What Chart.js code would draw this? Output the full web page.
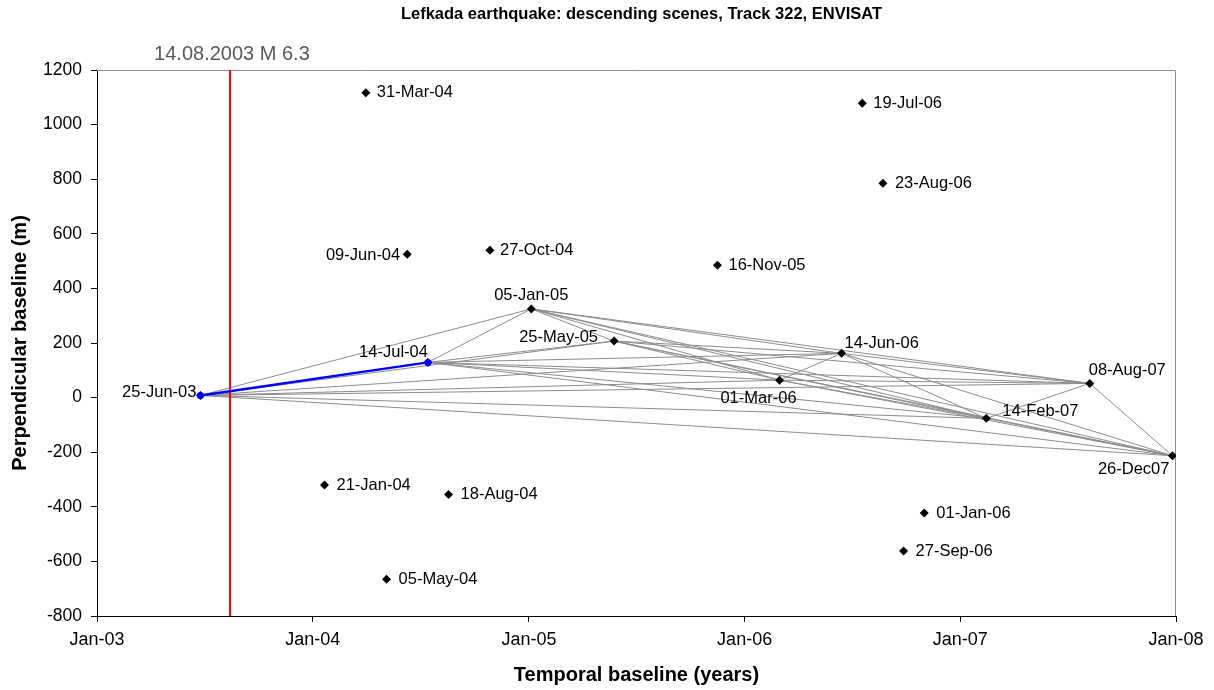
<!DOCTYPE html>
<html>
<head>
<meta charset="utf-8">
<script src="https://cdn.jsdelivr.net/npm/chart.js@4/dist/chart.umd.min.js"></script>
<style>
  html, body { margin: 0; padding: 0; background: #ffffff; }
  #wrap { width: 1214px; height: 690px; }
</style>
</head>
<body>
<div id="wrap"><canvas id="chart" width="1214" height="690"></canvas></div>
<script>
// ENVISAT descending track 322 acquisitions: date on the time axis, label text, perpendicular baseline (m)
const sceneDates = ['2003-06-25','2004-01-21','2004-03-31','2004-05-05','2004-06-09','2004-07-14','2004-08-18',
  '2004-10-27','2005-01-05','2005-05-25','2005-11-16','2006-03-01','2006-06-14','2006-07-19','2006-08-23',
  '2006-09-27','2006-11-01','2007-02-14','2007-08-08','2007-12-26'];
const sceneLabels = ['25-Jun-03','21-Jan-04','31-Mar-04','05-May-04','09-Jun-04','14-Jul-04','18-Aug-04',
  '27-Oct-04','05-Jan-05','25-May-05','16-Nov-05','01-Mar-06','14-Jun-06','19-Jul-06','23-Aug-06',
  '27-Sep-06','01-Jan-06','14-Feb-07','08-Aug-07','26-Dec07'];
const perpBaselines = [8,-320,1117,-665,525,129,-355,540,325,207,485,64,162,1078,785,-562,-423,-76,52,-213];

// Interferometric pairs (indices into sceneLabels)
const networkPairs = [
  [0,5],[0,8],[0,9],[0,11],[0,12],[0,17],[0,18],[0,19],
  [5,8],[5,9],[5,11],[5,12],[5,17],[5,18],[5,19],
  [8,9],[8,11],[8,12],[8,17],[8,18],[8,19],
  [9,11],[9,12],[9,17],[9,18],[9,19],
  [11,12],[11,17],[11,18],[11,19],
  [12,17],[12,18],[12,19],
  [17,18],[17,19],
  [18,19]
];
// Pre-seismic pair highlighted in blue
const masterPair = [0,5];

// Earthquake
const quakeDate = '2003-08-14';
const quakeText = '14.08.2003 M 6.3';

// Axis ticks
const yearTicks = ['2003-01-01','2004-01-01','2005-01-01','2006-01-01','2007-01-01','2008-01-01'];
const yearTickLabels = ['Jan-03','Jan-04','Jan-05','Jan-06','Jan-07','Jan-08'];
const yMin = -800, yMax = 1200, yStep = 200;

// Label placement around each marker: [dx, dy, align]
const labelPlacement = [
  [-4,-3,'right'],[12,0,'left'],[11,0,'left'],[12,0,'left'],[-7,1,'right'],[0,-10,'right'],[12,0,'left'],
  [10,0,'left'],[0,-13,'center'],[-16,-4,'right'],[11,0,'left'],[-21,18,'center'],[3,-10,'left'],[11,0,'left'],
  [12,0,'left'],[12,0,'left'],[12,0,'left'],[16,-7,'left'],[-1,-13,'left'],[-3,14,'right']
];

const DAY_MS = 86400000;
const axisOrigin = Date.parse(yearTicks[0] + 'T00:00:00Z');
const toDays = s => (Date.parse(s + 'T00:00:00Z') - axisOrigin) / DAY_MS;

const scenePoints = sceneDates.map((d, i) => ({ x: toDays(d), y: perpBaselines[i] }));
const tickDays = yearTicks.map(toDays);

const FONT = "'Liberation Sans', Arial, sans-serif";

const datasets = [];
// blue master pair on top
datasets.push({
  data: masterPair.map(i => scenePoints[i]),
  showLine: true, borderColor: '#0000ff', backgroundColor: '#0000ff', borderWidth: 2.5,
  pointRadius: 3.5, pointStyle: 'circle', pointBorderWidth: 0, order: 0
});
// acquisitions
datasets.push({
  data: scenePoints, showLine: false, pointStyle: 'rectRot', pointRadius: 4.5,
  backgroundColor: '#000000', borderColor: '#000000', pointBorderWidth: 0, order: 1
});
// earthquake line
datasets.push({
  data: [{ x: toDays(quakeDate), y: yMin }, { x: toDays(quakeDate), y: yMax }],
  showLine: true, borderColor: '#ff0000', borderWidth: 2, pointRadius: 0, order: 2
});
// network
networkPairs.forEach(p => {
  datasets.push({
    data: [scenePoints[p[0]], scenePoints[p[1]]],
    showLine: true, borderColor: '#8c8c8c', borderWidth: 1, pointRadius: 0, order: 3
  });
});

const decorations = {
  id: 'decorations',
  beforeDatasetsDraw(chart) {
    const { ctx, chartArea: a } = chart;
    ctx.save();
    ctx.strokeStyle = '#8c8c8c';
    ctx.lineWidth = 1;
    ctx.beginPath();
    ctx.moveTo(a.left, a.top + 0.5);
    ctx.lineTo(a.right - 0.5, a.top + 0.5);
    ctx.lineTo(a.right - 0.5, a.bottom);
    ctx.stroke();
    ctx.restore();
  },
  afterDraw(chart) {
    const { ctx, chartArea: a, scales: { x, y } } = chart;
    ctx.save();
    // chart title
    ctx.fillStyle = '#000000';
    ctx.font = 'bold 16.5px ' + FONT;
    ctx.textAlign = 'center';
    ctx.textBaseline = 'middle';
    ctx.fillText('Lefkada earthquake: descending scenes, Track 322, ENVISAT', (a.left + a.right) / 2 + 5, 14);
    // earthquake annotation
    ctx.fillStyle = '#595959';
    ctx.font = '20px ' + FONT;
    ctx.fillText(quakeText, x.getPixelForValue(toDays(quakeDate)) + 2, 54);
    // scene labels
    ctx.fillStyle = '#000000';
    ctx.font = '16.5px ' + FONT;
    scenePoints.forEach((p, i) => {
      const [dx, dy, align] = labelPlacement[i];
      ctx.textAlign = align;
      ctx.fillText(sceneLabels[i], x.getPixelForValue(p.x) + dx, y.getPixelForValue(p.y) + dy);
    });
    ctx.restore();
  }
};

new Chart(document.getElementById('chart'), {
  type: 'scatter',
  data: { datasets },
  options: {
    responsive: false,
    animation: false,
    devicePixelRatio: 1,
    layout: { padding: { top: 70, right: 38, left: 0, bottom: 0 } },
    plugins: { legend: { display: false }, tooltip: { enabled: false }, title: { display: false } },
    scales: {
      x: {
        type: 'linear',
        min: tickDays[0], max: tickDays[tickDays.length - 1],
        afterBuildTicks: s => { s.ticks = tickDays.map(v => ({ value: v })); },
        afterFit: s => { s.height = 74; },
        ticks: {
          color: '#000000', font: { family: FONT, size: 18 }, padding: 7, maxRotation: 0,
          callback: v => yearTickLabels[tickDays.indexOf(v)]
        },
        grid: { drawOnChartArea: false, drawTicks: true, tickLength: 6, color: '#000000' },
        border: { color: '#000000', width: 1 },
        title: { display: true, text: 'Temporal baseline (years)', color: '#000000',
          font: { family: FONT, size: 20, weight: 'bold' }, padding: { top: 0, bottom: 3 } }
      },
      y: {
        min: yMin, max: yMax,
        afterFit: s => { s.width = 97; },
        ticks: { stepSize: yStep, color: '#000000', font: { family: FONT, size: 17.5 }, padding: 9,
          callback: v => String(v) },
        grid: { drawOnChartArea: false, drawTicks: true, tickLength: 6, color: '#000000' },
        border: { color: '#000000', width: 1 },
        title: { display: true, text: 'Perpendicular baseline (m)', color: '#000000',
          font: { family: FONT, size: 20, weight: 'bold' }, padding: { top: 8, bottom: 0 } }
      }
    }
  },
  plugins: [decorations]
});
</script>
</body>
</html>
